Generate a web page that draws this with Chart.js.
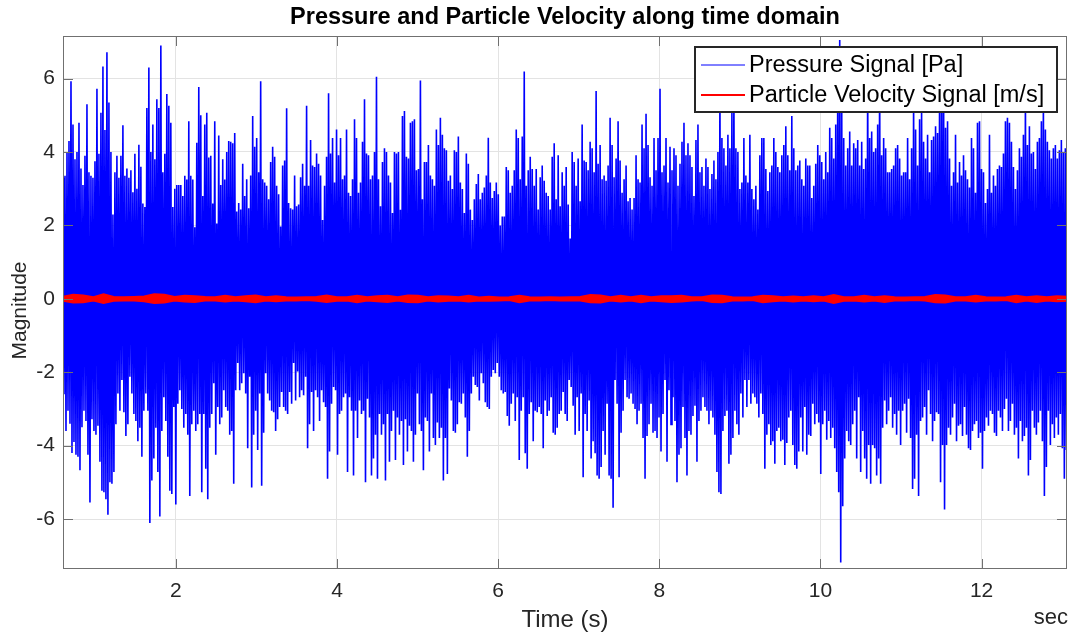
<!DOCTYPE html>
<html>
<head>
<meta charset="utf-8">
<script src="https://cdn.jsdelivr.net/npm/chart.js@4.4.1/dist/chart.umd.min.js"></script>
<style>
  html, body { margin: 0; padding: 0; background: #fff; }
  canvas { display: block; }
</style>
</head>
<body>
<canvas id="myChart" width="1073" height="637"></canvas>
<script>
var chartTitle = 'Pressure and Particle Velocity along time domain';
var xTitle = 'Time (s)';
var yTitle = 'Magnitude';
var xUnit = 'sec';
var xTicks = [2, 4, 6, 8, 10, 12];
var yTicks = [-6, -4, -2, 0, 2, 4, 6];
var seriesNames = ['Pressure Signal [Pa]', 'Particle Velocity Signal [m/s]'];

// pressure signal: highest / lowest sample in each ~0.025 s slice
var pressureStart = 0.6;
var pressureStep = 0.02478;
var pressureTop = [
  3.3, 3.35, 4.0, 4.3, 5.93, 4.75, 3.8, 4.0, 4.8, 3.55, 3.1, 3.9, 5.3, 3.45, 3.35, 3.3, 3.75, 5.72, 3.95, 5.07, 6.33,
  4.6, 6.72, 5.35, 4.0, 2.3, 3.45, 3.9, 3.3, 3.9, 4.73, 3.35, 3.55, 3.3, 3.5, 2.9, 3.95, 3.0, 4.2, 3.6, 2.6, 2.5,
  5.2, 6.3, 4.0, 4.75, 3.8, 5.44, 5.2, 6.9, 3.45, 3.95, 5.58, 5.26, 4.8, 2.5, 3.0, 3.1, 3.1, 3.1, 2.8, 3.35, 3.25,
  4.84, 3.35, 3.25, 1.95, 4.25, 5.77, 5.0, 2.8, 4.75, 5.07, 3.85, 3.9, 2.6, 4.84, 2.05, 4.45, 3.1, 3.8, 3.25, 4.0, 4.3,
  4.28, 4.24, 4.52, 2.38, 2.61, 2.43, 3.68, 2.8, 3.26, 2.47, 3.36, 4.98, 4.14, 4.38, 3.45, 5.93, 3.26, 3.17, 3.08, 2.71, 3.73,
  4.14, 3.87, 3.08, 2.85, 1.97, 3.63, 3.77, 5.19, 2.61, 2.47, 2.43, 3.36, 2.52, 2.57, 3.31, 3.68, 3.08, 5.26, 3.08, 4.33, 3.63,
  3.59, 3.96, 3.68, 3.36, 2.15, 3.08, 3.87, 5.6, 3.96, 4.38, 3.17, 4.61, 3.91, 4.38, 3.26, 3.36, 4.61, 2.89, 2.8, 3.26, 4.89,
  4.38, 2.89, 3.17, 4.28, 5.44, 3.96, 3.91, 3.26, 3.36, 4.0, 6.05, 3.26, 2.52, 3.73, 4.1, 4.0, 3.36, 3.17, 2.34, 4.0, 3.96,
  4.0, 2.43, 4.98, 5.12, 3.87, 3.82, 4.8, 4.84, 4.89, 3.5, 3.54, 5.95, 2.71, 3.73, 3.73, 4.19, 3.36, 3.26, 3.08, 4.61, 4.19,
  4.93, 4.47, 4.1, 4.05, 3.22, 3.36, 2.99, 4.05, 4.0, 4.42, 3.17, 2.99, 2.34, 3.96, 3.68, 2.43, 2.15, 2.71, 3.13, 3.4, 2.71,
  2.89, 3.03, 3.36, 4.39, 3.17, 2.75, 2.94, 3.17, 2.85, 2.0, 2.24, 2.24, 3.59, 3.5, 2.89, 3.08, 3.5, 4.61, 4.38, 3.26, 4.42,
  6.19, 3.08, 3.5, 3.87, 3.54, 3.08, 3.54, 2.43, 3.31, 3.63, 3.22, 2.89, 2.8, 2.43, 3.87, 4.24, 2.71, 3.91, 2.52, 3.45, 3.08,
  3.59, 2.57, 1.64, 4.0, 3.73, 3.08, 3.82, 2.66, 4.75, 3.77, 3.73, 3.5, 4.28, 4.1, 3.45, 5.66, 3.68, 4.19, 3.26, 3.36, 3.22,
  3.63, 4.93, 4.19, 3.31, 3.82, 4.84, 3.77, 2.89, 3.26, 3.63, 2.66, 2.75, 2.43, 2.75, 3.91, 3.26, 3.17, 4.75, 4.1, 5.04, 4.19,
  3.31, 3.08, 4.38, 3.5, 4.38, 5.72, 3.45, 3.63, 4.38, 3.17, 4.14, 3.5, 4.1, 3.91, 3.08, 3.68, 4.28, 4.8, 3.91, 4.24, 3.91,
  3.59, 2.8, 4.33, 4.75, 3.45, 3.59, 3.08, 3.82, 3.59, 2.99, 3.4, 3.77, 3.26, 4.0, 5.8, 4.38, 4.1, 3.63, 4.47, 4.1, 5.07,
  5.6, 4.1, 4.0, 2.99, 3.17, 4.38, 3.36, 3.17, 4.47, 2.99, 2.71, 3.08, 2.43, 3.91, 4.38, 4.38, 3.54, 2.94, 3.45, 3.63, 4.38,
  4.0, 3.59, 3.45, 3.91, 4.19, 4.7, 3.91, 3.5, 4.98, 4.1, 3.5, 3.63, 3.77, 3.26, 3.08, 3.82, 3.63, 3.63, 2.75, 3.08, 3.68,
  4.19, 3.91, 3.73, 3.26, 4.0, 3.45, 4.66, 4.38, 3.82, 4.75, 5.8, 7.05, 5.4, 4.38, 3.63, 4.1, 4.56, 3.63, 4.24, 4.1, 4.33,
  3.63, 4.28, 3.54, 3.82, 6.1, 4.38, 4.56, 4.0, 4.1, 4.75, 6.3, 3.91, 4.38, 4.1, 3.45, 3.45, 3.54, 3.63, 4.1, 4.19, 3.82,
  3.36, 3.45, 3.45, 4.38, 3.26, 4.1, 5.5, 4.61, 3.63, 4.89, 5.2, 4.28, 3.82, 4.47, 3.45, 4.33, 4.42, 4.7, 4.52, 5.3, 6.0,
  6.4, 4.66, 4.84, 3.82, 3.08, 3.45, 4.47, 3.17, 3.73, 3.36, 3.91, 3.5, 3.26, 3.03, 4.38, 4.1, 2.89, 4.8, 4.84, 3.54, 3.45,
  2.61, 2.99, 4.47, 2.89, 3.36, 3.08, 3.54, 3.63, 3.59, 3.96, 4.84, 4.93, 4.8, 4.28, 3.59, 2.99, 3.5, 4.1, 3.87, 4.47, 5.5,
  4.19, 4.7, 3.96, 4.0, 3.54, 4.28, 4.38, 4.84, 5.4, 4.61, 4.28, 4.05, 3.82, 4.1, 4.19, 3.82, 4.05, 4.33, 4.0, 4.1, 4.0
];
var pressureBottom = [
  -2.6, -3.6, -3.05, -3.4, -4.2, -3.9, -4.25, -4.3, -4.67, -3.5, -3.05, -3.33, -4.25, -5.55, -3.28, -3.6, -3.7, -3.46, -4.44, -5.23, -5.27,
  -5.46, -5.88, -5.0, -5.04, -4.72, -3.42, -2.58, -3.05, -2.21, -3.09, -3.74, -3.42, -2.12, -2.58, -3.14, -3.33, -3.88, -3.51, -4.3, -3.05, -2.58,
  -3.05, -6.11, -4.95, -4.35, -3.51, -4.72, -5.93, -3.6, -2.68, -3.33, -4.3, -5.23, -5.32, -2.95, -5.6, -2.86, -2.49, -3.0, -3.51, -3.14, -3.7,
  -5.37, -3.42, -3.05, -3.6, -3.42, -3.14, -5.27, -3.14, -4.63, -5.46, -3.51, -3.14, -2.3, -4.25, -2.95, -3.42, -3.23, -2.49, -2.95, -3.05, -3.7,
  -3.6, -5.04, -2.49, -1.75, -2.49, -2.3, -2.03, -2.58, -4.07, -2.12, -5.14, -3.7, -3.05, -4.12, -2.58, -5.09, -3.65, -2.03, -2.58, -2.77, -3.05,
  -3.09, -3.6, -3.28, -2.95, -2.54, -2.95, -3.05, -3.14, -2.54, -2.86, -1.75, -2.77, -1.98, -2.68, -2.49, -2.63, -2.12, -4.07, -3.42, -2.54, -3.6,
  -2.49, -2.68, -3.33, -2.49, -2.82, -2.95, -4.9, -4.16, -2.86, -2.4, -2.49, -4.25, -3.14, -3.05, -2.68, -2.58, -4.72, -2.68, -3.05, -4.81, -3.05,
  -3.79, -2.77, -3.14, -3.05, -5.0, -2.72, -3.23, -4.81, -4.35, -3.7, -4.9, -3.14, -3.7, -3.42, -4.95, -3.14, -4.44, -3.6, -3.05, -4.39, -3.23,
  -3.7, -3.33, -4.53, -3.28, -4.16, -3.46, -3.6, -4.44, -3.7, -2.58, -3.42, -3.6, -4.67, -3.23, -3.33, -4.16, -2.58, -3.79, -3.98, -3.37, -3.79,
  -3.51, -4.95, -3.79, -4.77, -2.44, -2.77, -3.6, -3.65, -3.42, -2.82, -2.86, -2.58, -3.23, -4.3, -3.6, -2.58, -2.12, -2.35, -2.4, -2.77, -2.03,
  -2.3, -2.82, -2.95, -3.0, -2.12, -1.94, -2.03, -1.75, -2.12, -2.49, -2.58, -2.54, -3.19, -3.46, -2.86, -2.58, -3.33, -2.68, -4.39, -3.05, -2.68,
  -4.21, -4.63, -3.14, -2.82, -3.88, -3.05, -3.09, -2.95, -3.14, -4.07, -2.77, -3.19, -3.05, -2.68, -3.65, -3.7, -3.51, -3.14, -3.05, -2.54, -3.14,
  -3.33, -2.21, -2.4, -2.91, -3.7, -2.68, -3.6, -2.58, -4.86, -3.14, -3.6, -2.77, -4.35, -3.88, -4.21, -4.81, -4.9, -4.58, -3.6, -4.25, -2.86,
  -4.81, -4.9, -5.69, -2.21, -2.86, -4.86, -3.65, -3.05, -2.21, -2.68, -2.72, -2.58, -2.86, -3.0, -3.42, -3.05, -2.86, -3.79, -4.9, -3.74, -3.42,
  -2.86, -3.65, -3.6, -3.79, -3.23, -4.16, -3.14, -2.21, -4.44, -2.49, -3.42, -2.68, -3.33, -5.0, -4.25, -4.07, -2.95, -3.79, -4.81, -3.6, -3.7,
  -3.19, -2.91, -4.44, -3.33, -3.05, -2.68, -2.95, -3.05, -3.42, -3.05, -3.23, -3.7, -4.72, -5.27, -5.32, -3.6, -3.19, -3.05, -4.49, -4.25, -3.79,
  -3.05, -3.42, -3.7, -2.58, -3.23, -2.21, -2.95, -2.21, -2.86, -2.58, -2.68, -2.86, -3.23, -2.58, -3.14, -4.63, -3.7, -3.42, -3.98, -3.88, -4.49,
  -3.6, -3.51, -3.88, -3.84, -4.53, -3.93, -3.23, -3.05, -3.98, -4.53, -4.63, -4.16, -3.23, -4.16, -2.95, -4.25, -3.7, -3.74, -2.86, -3.42, -3.14,
  -3.37, -4.77, -3.42, -3.05, -3.84, -3.33, -3.79, -3.51, -4.07, -4.72, -5.27, -7.18, -5.65, -4.35, -3.6, -3.88, -3.98, -3.42, -3.05, -4.35, -2.68,
  -4.72, -3.6, -4.35, -4.9, -3.98, -5.04, -3.98, -4.07, -4.81, -4.35, -5.04, -3.51, -2.77, -3.42, -3.05, -2.68, -3.51, -3.14, -3.7, -3.05, -3.98,
  -3.05, -2.86, -3.65, -2.72, -3.79, -5.18, -4.9, -3.7, -5.37, -3.33, -3.23, -2.95, -3.7, -2.49, -3.14, -3.88, -3.33, -3.09, -3.14, -5.0, -3.98,
  -5.74, -3.98, -3.51, -3.7, -3.23, -2.86, -3.88, -3.46, -3.42, -3.74, -2.95, -3.7, -4.07, -4.12, -3.6, -3.42, -3.33, -3.79, -3.65, -4.63, -3.6,
  -3.23, -3.46, -3.05, -3.14, -3.65, -3.74, -3.05, -3.23, -3.6, -3.0, -2.72, -3.6, -3.33, -2.86, -3.7, -3.51, -4.35, -3.33, -3.88, -3.74, -3.51,
  -4.81, -4.39, -3.05, -3.51, -3.7, -3.37, -3.05, -3.88, -5.37, -4.58, -3.05, -3.98, -3.42, -3.79, -3.23, -3.7, -3.14, -4.07, -4.9, -4.12, -4.35
];

// particle velocity: upper / lower edge of the red trace, ~0.126 s slices
var velocityStart = 0.6;
var velocityStep = 0.12586;
var velocityTop = [
  0.06, 0.12, 0.1, 0.05, 0.13, 0.06, 0.05, 0.06, 0.07, 0.13, 0.12, 0.06, 0.09, 0.08, 0.06, 0.05, 0.09, 0.05, 0.08, 0.1,
  0.05, 0.08, 0.05, 0.04, 0.05, 0.06, 0.1, 0.05, 0.05, 0.09, 0.05, 0.08, 0.09, 0.05, 0.1, 0.09, 0.05, 0.08, 0.07, 0.05,
  0.09, 0.04, 0.06, 0.04, 0.05, 0.09, 0.05, 0.04, 0.05, 0.04, 0.05, 0.06, 0.11, 0.1, 0.05, 0.09, 0.05, 0.09, 0.05, 0.08,
  0.08, 0.09, 0.05, 0.05, 0.1, 0.09, 0.05, 0.04, 0.05, 0.09, 0.08, 0.05, 0.07, 0.05, 0.08, 0.05, 0.11, 0.05, 0.05, 0.09,
  0.05, 0.08, 0.05, 0.04, 0.05, 0.06, 0.11, 0.1, 0.05, 0.05, 0.09, 0.05, 0.04, 0.05, 0.09, 0.05, 0.08, 0.05, 0.08, 0.06
];
var velocityBottom = [
  -0.06, -0.11, -0.1, -0.05, -0.12, -0.06, -0.05, -0.05, -0.07, -0.12, -0.11, -0.05, -0.08, -0.09, -0.05, -0.05, -0.08, -0.05, -0.07, -0.1,
  -0.05, -0.07, -0.05, -0.05, -0.04, -0.06, -0.09, -0.06, -0.05, -0.1, -0.05, -0.07, -0.09, -0.05, -0.09, -0.1, -0.05, -0.08, -0.06, -0.05,
  -0.08, -0.05, -0.06, -0.05, -0.04, -0.1, -0.05, -0.05, -0.04, -0.05, -0.05, -0.05, -0.1, -0.11, -0.05, -0.08, -0.05, -0.1, -0.05, -0.07,
  -0.09, -0.08, -0.05, -0.04, -0.09, -0.1, -0.05, -0.05, -0.04, -0.1, -0.07, -0.05, -0.08, -0.05, -0.07, -0.05, -0.12, -0.06, -0.05, -0.08,
  -0.05, -0.09, -0.05, -0.05, -0.04, -0.05, -0.1, -0.11, -0.05, -0.05, -0.08, -0.05, -0.05, -0.04, -0.1, -0.05, -0.09, -0.05, -0.07, -0.06
];

var fontFamily = '"Liberation Sans", Arial, Helvetica, sans-serif';
var blue = '#0000ff';
var red = '#ff0000';
var axisColor = '#262626';

// each slice is drawn as its top sample followed by its bottom sample
function pressurePoints() {
  var pts = [];
  for (var i = 0; i < pressureTop.length; i++) {
    var t = pressureStart + i * pressureStep;
    pts.push({ x: t, y: pressureTop[i] });
    pts.push({ x: t + pressureStep / 2, y: pressureBottom[i] });
  }
  return pts;
}

function velocityPoints(values) {
  return values.map(function (v, i) {
    return { x: velocityStart + i * velocityStep, y: v };
  });
}

function line(ctx, x1, y1, x2, y2) {
  ctx.beginPath();
  ctx.moveTo(x1, y1);
  ctx.lineTo(x2, y2);
  ctx.stroke();
}

var decorPlugin = {
  id: 'decor',
  afterDraw: function (chart) {
    var ctx = chart.ctx;
    var a = chart.chartArea;
    var xs = chart.scales.x;
    var ys = chart.scales.y;
    ctx.save();

    // axes box with inward ticks on all sides
    ctx.strokeStyle = '#707070';
    ctx.lineWidth = 1;
    ctx.strokeRect(a.left + 0.5, a.top + 0.5, a.right - a.left - 1, a.bottom - a.top - 1);
    var tl = 10;
    xTicks.forEach(function (v) {
      var px = Math.round(xs.getPixelForValue(v)) + 0.5;
      line(ctx, px, a.top, px, a.top + tl);
      line(ctx, px, a.bottom, px, a.bottom - tl);
    });
    yTicks.forEach(function (v) {
      var py = Math.round(ys.getPixelForValue(v)) + 0.5;
      line(ctx, a.left, py, a.left + tl, py);
      line(ctx, a.right, py, a.right - tl, py);
    });

    // legend box
    var lw = 362, lh = 65;
    var lx = a.right - 10 - lw, ly = a.top + 11;
    ctx.fillStyle = '#ffffff';
    ctx.fillRect(lx, ly, lw, lh);
    ctx.strokeStyle = '#262626';
    ctx.lineWidth = 2;
    ctx.strokeRect(lx, ly, lw, lh);
    ctx.font = '23.5px ' + fontFamily;
    ctx.textAlign = 'left';
    ctx.textBaseline = 'middle';
    var rows = [{ c: blue, w: 1 }, { c: red, w: 2 }];
    rows.forEach(function (r, i) {
      var ry = ly + 18 + i * 30;
      ctx.strokeStyle = r.c;
      ctx.lineWidth = r.w;
      line(ctx, lx + 6, ry, lx + 50, ry);
      ctx.fillStyle = '#000000';
      ctx.fillText(seriesNames[i], lx + 54, ry + 1);
    });

    // titles
    var cx = (a.left + a.right) / 2;
    ctx.fillStyle = '#000000';
    ctx.textAlign = 'center';
    ctx.font = 'bold 23.5px ' + fontFamily;
    ctx.fillText(chartTitle, cx, 18);
    ctx.fillStyle = axisColor;
    ctx.font = '24px ' + fontFamily;
    ctx.fillText(xTitle, cx, 620);
    ctx.font = '22px ' + fontFamily;
    ctx.textAlign = 'right';
    ctx.fillText(xUnit, a.right + 1, 618);
    ctx.font = '21px ' + fontFamily;
    ctx.translate(20, (a.top + a.bottom) / 2 + 8);
    ctx.rotate(-Math.PI / 2);
    ctx.textAlign = 'center';
    ctx.fillText(yTitle, 0, 0);
    ctx.restore();
  }
};

var ctx = document.getElementById('myChart');
var myChart = new Chart(ctx, {
  type: 'line',
  data: {
    datasets: [{
      label: seriesNames[1],
      data: velocityPoints(velocityTop),
      borderColor: red,
      backgroundColor: red,
      borderWidth: 1.5,
      fill: '+1',
      order: 0
    }, {
      label: seriesNames[1],
      data: velocityPoints(velocityBottom),
      borderColor: red,
      borderWidth: 1.5,
      fill: false,
      order: 0
    }, {
      label: seriesNames[0],
      data: pressurePoints(),
      borderColor: blue,
      borderWidth: 1.6,
      fill: false,
      order: 1
    }]
  },
  options: {
    responsive: false,
    animation: false,
    events: [],
    elements: {
      point: { radius: 0 },
      line: { tension: 0 }
    },
    layout: { padding: { left: 0, right: 6, top: 36, bottom: 0 } },
    plugins: {
      legend: { display: false },
      title: { display: false },
      tooltip: { enabled: false }
    },
    scales: {
      x: {
        type: 'linear',
        min: 0.6,
        max: 13.06,
        afterFit: function (s) { s.height = 68; },
        afterBuildTicks: function (s) { s.ticks = xTicks.map(function (v) { return { value: v }; }); },
        grid: { color: '#e3e3e3', drawTicks: false },
        border: { display: false },
        ticks: { padding: 10, color: axisColor, maxRotation: 0, font: { family: fontFamily, size: 21 } }
      },
      y: {
        type: 'linear',
        min: -7.36,
        max: 7.16,
        afterFit: function (s) { s.width = 63; },
        afterBuildTicks: function (s) { s.ticks = yTicks.map(function (v) { return { value: v }; }); },
        grid: { color: '#e3e3e3', drawTicks: false },
        border: { display: false },
        ticks: { padding: 8, color: axisColor, font: { family: fontFamily, size: 21 } }
      }
    }
  },
  plugins: [decorPlugin]
});
</script>
</body>
</html>
